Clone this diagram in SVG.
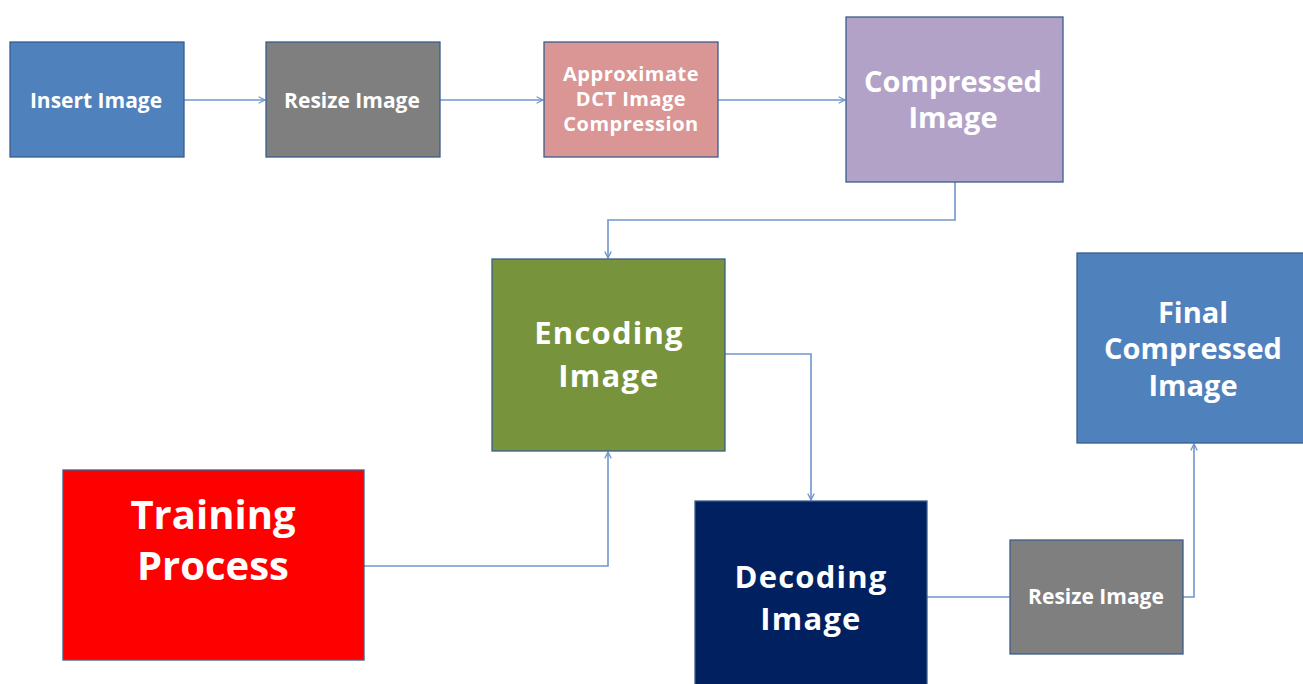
<svg xmlns="http://www.w3.org/2000/svg" width="1303" height="684" viewBox="0 0 1303 684">
  <style>
    .box { stroke: #3a5f8c; stroke-width: 1.3; }
    .lbl { font-family: "Open Sans", Lato, "Liberation Sans", sans-serif; font-weight: bold; fill: #ffffff; text-anchor: middle; }
    .wire { fill: none; stroke: #6f96cc; stroke-width: 1.6; }
  </style>
  <defs>
    <marker id="arrow" viewBox="0 0 10 10" refX="9" refY="5" markerWidth="8" markerHeight="8" markerUnits="userSpaceOnUse" orient="auto">
      <path d="M1,1 L9,5 L1,9" fill="none" stroke="#6f96cc" stroke-width="1.6"/>
    </marker>
  </defs>
  <rect width="1303" height="684" fill="#ffffff"/>

  <g id="connectors">
    <path class="wire" d="M184,100 H265" marker-end="url(#arrow)"/>
    <path class="wire" d="M440,100 H543" marker-end="url(#arrow)"/>
    <path class="wire" d="M718,100 H845" marker-end="url(#arrow)"/>
    <path class="wire" d="M955,182 V220 H608 V258" marker-end="url(#arrow)"/>
    <path class="wire" d="M364,566 H608 V452" marker-end="url(#arrow)"/>
    <path class="wire" d="M725,354 H811 V500" marker-end="url(#arrow)"/>
    <path class="wire" d="M927,597 H1010"/>
    <path class="wire" d="M1183,597 H1194 V444" marker-end="url(#arrow)"/>
  </g>

  <g id="insert-image">
    <rect class="box" x="10" y="42" width="174" height="115" fill="#4f81bd"/>
    <text class="lbl" x="96" y="108" font-size="21">Insert Image</text>
  </g>
  <g id="resize-image">
    <rect class="box" x="266" y="42" width="174" height="115" fill="#7f7f7f"/>
    <text class="lbl" x="352" y="108" font-size="21">Resize Image</text>
  </g>
  <g id="dct-compression">
    <rect class="box" x="544" y="42" width="174" height="115" fill="#d99694"/>
    <text class="lbl" x="631" y="81" font-size="20" letter-spacing="0.5">Approximate</text>
    <text class="lbl" x="631" y="106" font-size="20" letter-spacing="0.5">DCT Image</text>
    <text class="lbl" x="631" y="131" font-size="20" letter-spacing="0.5">Compression</text>
  </g>
  <g id="compressed-image">
    <rect class="box" x="846" y="17" width="217" height="165" fill="#b3a2c7"/>
    <text class="lbl" x="953" y="92" font-size="29">Compressed</text>
    <text class="lbl" x="953" y="128" font-size="29">Image</text>
  </g>
  <g id="encoding-image">
    <rect class="box" x="492" y="259" width="233" height="192" fill="#77933c"/>
    <text class="lbl" x="609" y="344" font-size="31" letter-spacing="1.2">Encoding</text>
    <text class="lbl" x="609" y="387" font-size="31" letter-spacing="1.2">Image</text>
  </g>
  <g id="training-process">
    <rect class="box" x="63" y="470" width="301" height="190" fill="#ff0000"/>
    <text class="lbl" x="213" y="529" font-size="40">Training</text>
    <text class="lbl" x="213" y="580" font-size="40">Process</text>
  </g>
  <g id="decoding-image">
    <rect class="box" x="695" y="501" width="232" height="190" fill="#002060"/>
    <text class="lbl" x="811" y="588" font-size="31" letter-spacing="1.2">Decoding</text>
    <text class="lbl" x="811" y="630" font-size="31" letter-spacing="1.2">Image</text>
  </g>
  <g id="resize-image-2">
    <rect class="box" x="1010" y="540" width="173" height="114" fill="#7f7f7f"/>
    <text class="lbl" x="1096" y="604" font-size="21">Resize Image</text>
  </g>
  <g id="final-compressed-image">
    <rect class="box" x="1077" y="253" width="232" height="190" fill="#4f81bd"/>
    <text class="lbl" x="1193" y="323" font-size="29">Final</text>
    <text class="lbl" x="1193" y="359" font-size="29">Compressed</text>
    <text class="lbl" x="1193" y="396" font-size="29">Image</text>
  </g>
</svg>
